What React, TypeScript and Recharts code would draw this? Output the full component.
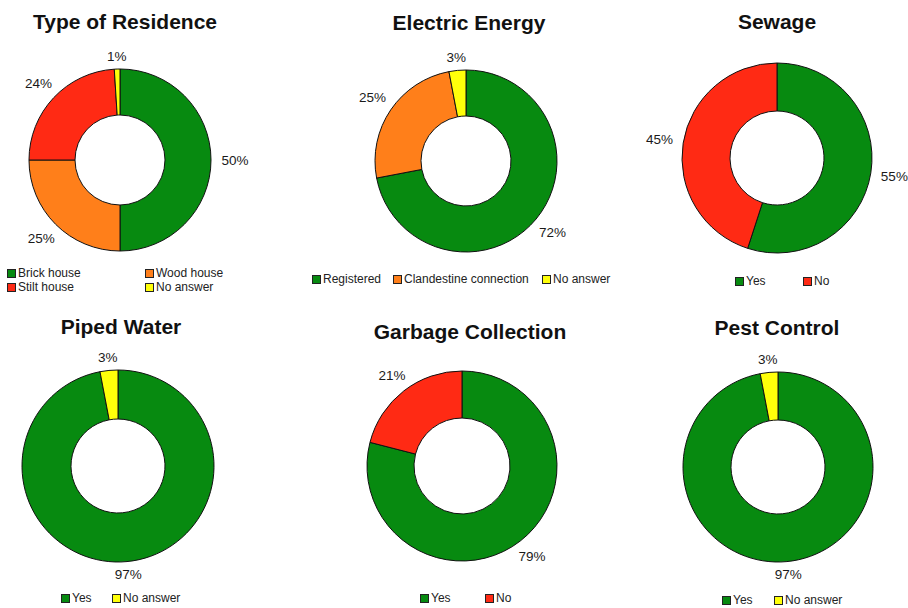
import { PieChart, Pie, Cell } from 'recharts';

// colours
const GREEN = '#078A10';
const ORANGE = '#FF7F1A';
const RED = '#FF2A14';
const YELLOW = '#FFFF0A';

// values (percent) per chart, clockwise from 12 o'clock
const residenceLabels = ['Brick house', 'Wood house', 'Stilt house', 'No answer'];
const residenceValues = [50, 25, 24, 1];
const residenceColors = [GREEN, ORANGE, RED, YELLOW];

const energyLabels = ['Registered', 'Clandestine connection', 'No answer'];
const energyValues = [72, 25, 3];
const energyColors = [GREEN, ORANGE, YELLOW];

const sewageLabels = ['Yes', 'No'];
const sewageValues = [55, 45];
const sewageColors = [GREEN, RED];

const waterLabels = ['Yes', 'No answer'];
const waterValues = [97, 3];
const waterColors = [GREEN, YELLOW];

const garbageLabels = ['Yes', 'No'];
const garbageValues = [79, 21];
const garbageColors = [GREEN, RED];

const pestLabels = ['Yes', 'No answer'];
const pestValues = [97, 3];
const pestColors = [GREEN, YELLOW];

const FONT = 'Arial, "Liberation Sans", Helvetica, sans-serif';
const RAD = Math.PI / 180;

type LegendPos = { x: number; y: number };

interface Panel {
  title: string;
  titleX: number;
  titleY: number;
  labels: string[];
  values: number[];
  colors: string[];
  cx: number;
  cy: number;
  outer: number;
  inner: number;
  legend: LegendPos[];
}

const panels: Panel[] = [
  {
    title: 'Type of Residence', titleX: 125, titleY: 22,
    labels: residenceLabels, values: residenceValues, colors: residenceColors,
    cx: 120, cy: 160, outer: 91, inner: 45,
    legend: [{ x: 7, y: 273 }, { x: 145, y: 273 }, { x: 7, y: 287 }, { x: 145, y: 287 }],
  },
  {
    title: 'Electric Energy', titleX: 469, titleY: 23,
    labels: energyLabels, values: energyValues, colors: energyColors,
    cx: 466, cy: 161, outer: 91, inner: 45,
    legend: [{ x: 312, y: 279 }, { x: 393, y: 279 }, { x: 542, y: 279 }],
  },
  {
    title: 'Sewage', titleX: 777, titleY: 22,
    labels: sewageLabels, values: sewageValues, colors: sewageColors,
    cx: 777, cy: 158, outer: 95, inner: 47,
    legend: [{ x: 735, y: 281 }, { x: 803, y: 281 }],
  },
  {
    title: 'Piped Water', titleX: 121, titleY: 327,
    labels: waterLabels, values: waterValues, colors: waterColors,
    cx: 118, cy: 466, outer: 96, inner: 47,
    legend: [{ x: 61, y: 598 }, { x: 112, y: 598 }],
  },
  {
    title: 'Garbage Collection', titleX: 470, titleY: 332,
    labels: garbageLabels, values: garbageValues, colors: garbageColors,
    cx: 462, cy: 466, outer: 95, inner: 48,
    legend: [{ x: 420, y: 598 }, { x: 485, y: 598 }],
  },
  {
    title: 'Pest Control', titleX: 777, titleY: 328,
    labels: pestLabels, values: pestValues, colors: pestColors,
    cx: 778, cy: 467, outer: 95, inner: 47,
    legend: [{ x: 722, y: 600 }, { x: 774, y: 600 }],
  },
];

// percent label placed just outside the ring, along the slice's mid angle
function renderLabel(props: any) {
  const { cx, cy, midAngle, outerRadius, value } = props;
  const cos = Math.cos(-midAngle * RAD);
  const sin = Math.sin(-midAngle * RAD);
  const d = outerRadius + 12 + 12 * Math.abs(cos);
  return (
    <text
      x={cx + d * cos}
      y={cy + d * sin}
      textAnchor="middle"
      dominantBaseline="central"
      fontSize={13.5}
      fontFamily={FONT}
      fill="#1a1a1a"
    >
      {`${value}%`}
    </text>
  );
}

export default function App() {
  return (
    <div style={{ position: 'absolute', left: 0, top: 0, width: 908, height: 608, background: '#fff', overflow: 'hidden', fontFamily: FONT }}>
      <PieChart
        width={908}
        height={608}
        margin={{ top: 0, right: 0, bottom: 0, left: 0 }}
        style={{ position: 'absolute', left: 0, top: 0 }}
      >
        {panels.map((p) => (
          <Pie
            key={p.title}
            data={p.labels.map((name, i) => ({ name, value: p.values[i] }))}
            dataKey="value"
            nameKey="name"
            cx={p.cx}
            cy={p.cy}
            outerRadius={p.outer}
            innerRadius={p.inner}
            startAngle={90}
            endAngle={-270}
            stroke="#111"
            strokeWidth={1}
            label={renderLabel}
            labelLine={false}
            isAnimationActive={false}
          >
            {p.colors.map((c, i) => (
              <Cell key={i} fill={c} />
            ))}
          </Pie>
        ))}
      </PieChart>

      {panels.map((p) => (
        <div key={'t' + p.title}>
          <div
            style={{
              position: 'absolute',
              left: p.titleX - 150,
              width: 300,
              top: p.titleY - 13,
              height: 26,
              lineHeight: '26px',
              textAlign: 'center',
              fontSize: 21,
              fontWeight: 'bold',
              color: '#111',
            }}
          >
            {p.title}
          </div>
          {p.legend.map((pos, i) => (
            <div
              key={i}
              style={{
                position: 'absolute',
                left: pos.x,
                top: pos.y - 8,
                height: 16,
                display: 'flex',
                alignItems: 'center',
                fontSize: 12,
                color: '#222',
                whiteSpace: 'nowrap',
              }}
            >
              <span
                style={{
                  display: 'inline-block',
                  width: 7,
                  height: 7,
                  background: p.colors[i],
                  border: '1px solid #222',
                  marginRight: 2,
                }}
              />
              {p.labels[i]}
            </div>
          ))}
        </div>
      ))}
    </div>
  );
}
